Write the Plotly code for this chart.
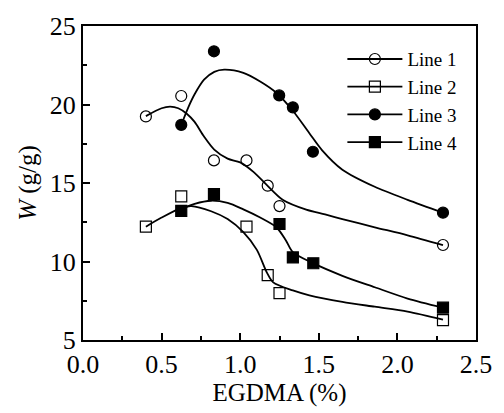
import plotly.graph_objects as go

# Measured points
x1 = [0.40, 0.625, 0.833, 1.04, 1.175, 1.25, 2.29]
y1 = [19.24, 20.54, 16.44, 16.44, 14.83, 13.53, 11.05]
x2 = [0.40, 0.625, 1.04, 1.175, 1.25, 2.29]
y2 = [12.22, 14.15, 12.22, 9.13, 7.99, 6.26]
x3 = [0.625, 0.833, 1.248, 1.335, 1.4625, 2.29]
y3 = [18.70, 23.39, 20.58, 19.82, 16.99, 13.11]
x4 = [0.625, 0.833, 1.25, 1.335, 1.465, 2.29]
y4 = [13.22, 14.29, 12.39, 10.26, 9.89, 7.06]

# Fitted curves
c1x = [0.40, 0.50, 0.554, 0.606, 0.66, 0.71, 0.77, 0.835, 0.92, 1.0, 1.086, 1.17, 1.27, 1.42, 1.54, 1.65, 1.856, 2.065, 2.29]
c1y = [19.26, 19.76, 19.86, 19.76, 19.41, 18.89, 17.96, 17.13, 16.55, 16.31, 15.69, 14.86, 13.93, 13.3, 13.0, 12.7, 12.18, 11.67, 11.05]
c2x = [0.40, 0.50, 0.627, 0.69, 0.815, 0.92, 1.02, 1.106, 1.17, 1.21, 1.335, 1.44, 1.65, 1.856, 2.065, 2.29]
c2y = [12.22, 12.8, 13.42, 13.53, 13.2, 12.7, 11.87, 10.74, 9.29, 8.67, 8.16, 7.85, 7.43, 7.12, 6.81, 6.3]
c3x = [0.625, 0.67, 0.71, 0.77, 0.835, 0.898, 1.02, 1.127, 1.23, 1.335, 1.44, 1.52, 1.65, 1.856, 2.065, 2.29]
c3y = [18.7, 19.82, 20.65, 21.58, 22.08, 22.22, 22.02, 21.47, 20.75, 19.6, 18.17, 17.1, 15.85, 14.76, 13.93, 13.11]
c4x = [0.627, 0.71, 0.815, 0.92, 1.02, 1.127, 1.23, 1.29, 1.335, 1.46, 1.65, 1.856, 2.065, 2.29]
c4y = [13.35, 13.67, 13.87, 13.73, 13.32, 12.8, 12.18, 11.36, 10.6, 9.91, 9.09, 8.36, 7.64, 7.06]

names = ["Line 1", "Line 2", "Line 3", "Line 4"]
symbols = ["circle-open", "square-open", "circle", "square"]

fig = go.Figure()
curves = [(c1x, c1y), (c2x, c2y), (c3x, c3y), (c4x, c4y)]
points = [(x1, y1), (x2, y2), (x3, y3), (x4, y4)]

for (cx, cy) in curves:
    fig.add_trace(go.Scatter(x=cx, y=cy, mode="lines",
                             line=dict(color="black", width=1.8, shape="spline", smoothing=0.8),
                             showlegend=False, hoverinfo="skip"))

for (px, py), sym in zip(points, symbols):
    fig.add_trace(go.Scatter(x=px, y=py, mode="markers", showlegend=False,
                             marker=dict(symbol=sym, size=11, color="black",
                                         line=dict(color="black", width=1.2))))
for name, sym in zip(names, symbols):
    fig.add_trace(go.Scatter(x=[None], y=[None], mode="lines+markers", name=name,
                             line=dict(color="black", width=1.8),
                             marker=dict(symbol=sym, size=11, color="black",
                                         line=dict(color="black", width=1.2))))

font = "Times New Roman, Liberation Serif, Times, serif"
fig.update_layout(
    width=504, height=413,
    margin=dict(l=83, r=21, t=23, b=67),
    paper_bgcolor="white", plot_bgcolor="white",
    font=dict(family=font, color="black", size=26),
    showlegend=True,
    legend=dict(x=0.66, y=0.955, xanchor="left", yanchor="top",
                bgcolor="rgba(0,0,0,0)", font=dict(size=19, family=font),
                itemwidth=55, tracegroupgap=0),
)
fig.update_xaxes(range=[0, 2.5], tickvals=[0, 0.5, 1.0, 1.5, 2.0, 2.5],
                 ticktext=["0.0", "0.5", "1.0", "1.5", "2.0", "2.5"],
                 ticks="inside", ticklen=7, tickwidth=1.5, tickcolor="black",
                 minor=dict(dtick=0.25, ticks="inside", ticklen=4, tickwidth=1.5, tickcolor="black"),
                 showline=True, linecolor="black", linewidth=2, mirror=True,
                 showgrid=False, zeroline=False,
                 tickfont=dict(size=26, family=font),
                 title=dict(text="EGDMA (%)", font=dict(size=25, family=font), standoff=4))
fig.update_yaxes(range=[5, 25], tickvals=[5, 10, 15, 20, 25],
                 ticks="inside", ticklen=7, tickwidth=1.5, tickcolor="black",
                 minor=dict(dtick=2.5, ticks="inside", ticklen=4, tickwidth=1.5, tickcolor="black"),
                 showline=True, linecolor="black", linewidth=2, mirror=True,
                 showgrid=False, zeroline=False,
                 tickfont=dict(size=26, family=font),
                 title=dict(text="<i>W</i> (g/g)", font=dict(size=25, family=font), standoff=6))

fig.write_html("out.html")
